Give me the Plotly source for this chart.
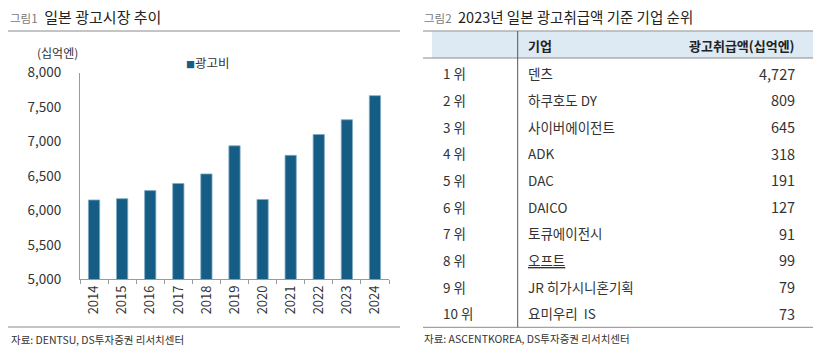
import plotly.graph_objects as go

W, H = 825, 353
FONT = "Noto Sans CJK KR"

# ---- data ----
years = ["2014", "2015", "2016", "2017", "2018", "2019", "2020", "2021", "2022", "2023", "2024"]
ad_spend = [6152, 6171, 6288, 6391, 6530, 6938, 6159, 6800, 7102, 7317, 7667]
y_ticks = [5000, 5500, 6000, 6500, 7000, 7500, 8000]

ranks = ["1 위", "2 위", "3 위", "4 위", "5 위", "6 위", "7 위", "8 위", "9 위", "10 위"]
companies = ["덴츠", "하쿠호도 DY", "사이버에이전트", "ADK", "DAC", "DAICO",
             "토큐에이전시", "<span style='text-decoration:underline'>오프트</span>",
             "JR 히가시니혼기획", "요미우리  IS"]
amounts = ["4,727", "809", "645", "318", "191", "127", "91", "99", "79", "73"]

BAR = "#155D85"


def X(px):
    return px / W


def Y(py):
    return 1 - py / H


fig = go.Figure()
fig.add_trace(go.Bar(x=years, y=ad_spend, marker=dict(color=BAR, line=dict(color="#7FA9C4", width=0.8)),
                     showlegend=False, hoverinfo="skip"))

fig.update_layout(
    width=W, height=H, autosize=False,
    margin=dict(l=0, r=0, t=0, b=0, pad=0, autoexpand=False),
    showlegend=False,
    paper_bgcolor="white", plot_bgcolor="white",
    font=dict(family=FONT, size=12, color="#333333"),
    bargap=0.6,
    xaxis=dict(domain=[X(80), X(389)], type="category", tickangle=-90, automargin=False,
               showline=True, linecolor="#9a9a9a", linewidth=1,
               ticks="outside", tickson="boundaries", ticklen=4, tickcolor="#9a9a9a",
               tickfont=dict(size=13, color="#333333"), showgrid=False),
    yaxis=dict(domain=[Y(279.3), Y(72.7)], range=[5000, 8000], tickvals=y_ticks, automargin=False,
               tickformat=",", showline=True, linecolor="#9a9a9a", linewidth=1,
               showgrid=False, zeroline=False, ticks="", ticklabelstandoff=15,
               tickfont=dict(size=13.5, color="#333333")),
)

shapes = []
ann = []

# ---- left panel text ----
ann.append(dict(x=X(8), y=Y(17), text="<span style='color:#7a7a7a;font-size:11.5px'>그림1</span>  일본 광고시장 추이",
                font=dict(size=15, color="#222222", family=FONT)))
ann.append(dict(x=X(35), y=Y(53), text="(십억엔)", font=dict(size=12, color="#333333", family=FONT)))
ann.append(dict(x=X(184), y=Y(63), text=f"<span style='color:{BAR};font-size:9px'>■</span>광고비",
                font=dict(size=12.5, color="#333333", family=FONT)))
ann.append(dict(x=X(9), y=Y(339), text="자료: DENTSU, DS투자증권 리서치센터",
                font=dict(size=10.5, color="#333333", family=FONT)))
shapes.append(dict(type="line", x0=X(8), x1=X(400), y0=Y(31), y1=Y(31), line=dict(color="#8a8a8a", width=1)))
shapes.append(dict(type="line", x0=X(8), x1=X(400), y0=Y(327), y1=Y(327), line=dict(color="#8a8a8a", width=1)))

# ---- right panel: table ----
ann.append(dict(x=X(422), y=Y(17), text="<span style='color:#7a7a7a;font-size:11.5px'>그림2</span>  2023년 일본 광고취급액 기준 기업 순위",
                font=dict(size=14.5, color="#222222", family=FONT)))
shapes.append(dict(type="rect", x0=X(432), x1=X(813), y0=Y(31.5), y1=Y(58), fillcolor="#DDE9F3",
                   line=dict(width=0), layer="below"))
shapes.append(dict(type="line", x0=X(423), x1=X(813), y0=Y(31), y1=Y(31), line=dict(color="#8a8a8a", width=1)))
shapes.append(dict(type="line", x0=X(423), x1=X(813), y0=Y(58), y1=Y(58), line=dict(color="#8a8a8a", width=1)))
shapes.append(dict(type="line", x0=X(423), x1=X(813), y0=Y(327.3), y1=Y(327.3), line=dict(color="#8a8a8a", width=1)))
shapes.append(dict(type="line", x0=X(517.7), x1=X(517.7), y0=Y(31), y1=Y(327.3), line=dict(color="#555555", width=1)))

ann.append(dict(x=X(526), y=Y(45), text="<b>기업</b>", font=dict(size=13, color="#222222", family=FONT)))
ann.append(dict(x=X(797), y=Y(45), text="<b>광고취급액(십억엔)</b>", xanchor="right",
                font=dict(size=13, color="#222222", family=FONT)))

row0, step = 73.3, 26.67
for i, (r, c, a) in enumerate(zip(ranks, companies, amounts)):
    yy = Y(row0 + i * step)
    ann.append(dict(x=X(441), y=yy, text=r, font=dict(size=13.5, color="#333333", family=FONT)))
    ann.append(dict(x=X(526), y=yy, text=c, font=dict(size=13.5, color="#333333", family=FONT)))
    ann.append(dict(x=X(797), y=yy, text=a, xanchor="right", font=dict(size=14.5, color="#333333", family=FONT)))

ann.append(dict(x=X(422), y=Y(338), text="자료: ASCENTKOREA, DS투자증권 리서치센터",
                font=dict(size=10.5, color="#333333", family=FONT)))

for a in ann:
    a.setdefault("xanchor", "left")
    a["xref"] = "paper"
    a["yref"] = "paper"
    a["yanchor"] = "middle"
    a["showarrow"] = False

fig.update_layout(shapes=[dict(s, xref="paper", yref="paper") for s in shapes], annotations=ann)

fig.write_html("out.html")
